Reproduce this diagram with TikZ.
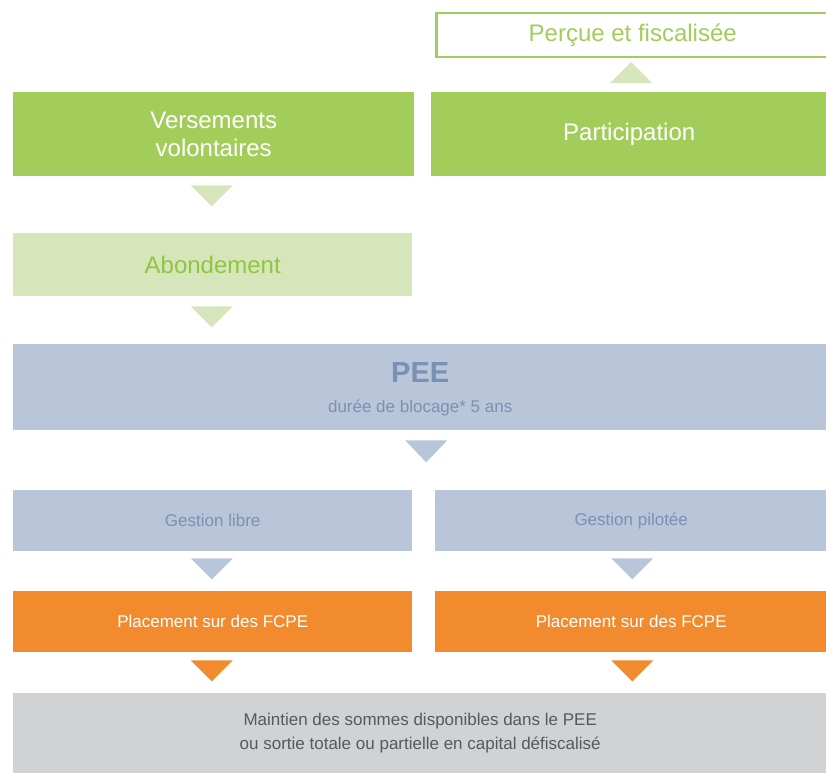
\documentclass[tikz,border=0pt]{standalone}
\usepackage{fontspec}
\setmainfont{Liberation Sans}
\usetikzlibrary{calc}
\definecolor{leaf}{HTML}{A2CD5A}
\definecolor{paleleaf}{HTML}{D7E6BA}
\definecolor{leaftext}{HTML}{8DC63F}
\definecolor{slate}{HTML}{B9C6D9}
\definecolor{slatetext}{HTML}{7A91B4}
\definecolor{fcpe}{HTML}{F28B2D}
\definecolor{fog}{HTML}{D1D2D4}
\definecolor{fogtext}{HTML}{58595B}
\tikzset{
  box/.style={rectangle, anchor=north west, inner sep=0pt, align=center},
  bigtxt/.style={font=\fontsize{24}{28}\selectfont},
  smalltxt/.style={font=\fontsize{17}{24}\selectfont},
}

\begin{document}
\begin{tikzpicture}[x=1pt, y=-1pt]
        \useasboundingbox (0,0) rectangle (826,773);
        % boxes
        \node [box, draw=leaf, line width=2.5pt, text=leaf, bigtxt, minimum width=393pt, minimum height=44pt] (percue) at (435,12) {Perçue et fiscalisée};
        \node [box, fill=leaf, text=white, bigtxt, minimum width=396pt, minimum height=84pt] (particip) at (431,92) {Participation};
        \node [box, fill=leaf, text=white, bigtxt, minimum width=401pt, minimum height=84pt] (versem) at (13,92) {Versements\\volontaires};
        \node [box, fill=paleleaf, text=leaftext, bigtxt, minimum width=399pt, minimum height=63pt] (abond) at (13,233) {Abondement};
        \node [box, fill=slate, minimum width=814pt, minimum height=86pt] (pee) at (13,344) {};
        \node [text=slatetext, font=\fontsize{29}{29}\selectfont\bfseries] (peeT) at ($(pee.north)+(0,29)$) {PEE};
        \node [text=slatetext, smalltxt] (peeS) at ($(pee.north)+(0,64)$) {durée de blocage* 5 ans};
        \node [box, fill=slate, text=slatetext, smalltxt, minimum width=399pt, minimum height=61pt] (libre) at (13,490) {Gestion libre};
        \node [box, fill=slate, text=slatetext, smalltxt, minimum width=392pt, minimum height=61pt] (pilot) at (435,490) {Gestion pilotée};
        \node [box, fill=fcpe, text=white, smalltxt, minimum width=399pt, minimum height=61pt] (placeL) at (13,591) {Placement sur des FCPE};
        \node [box, fill=fcpe, text=white, smalltxt, minimum width=392pt, minimum height=61pt] (placeR) at (435,591) {Placement sur des FCPE};
        \node [box, fill=fog, text=fogtext, smalltxt, minimum width=814pt, minimum height=80pt] (sortie) at (13,693) {Maintien des sommes disponibles dans le PEE\\ou sortie totale ou partielle en capital défiscalisé};
        % triangles
        \fill [paleleaf] ($(particip.north)+(-19,-9)$) -- ++(42,0) -- ++(-21,-21) -- cycle;
        \fill [paleleaf] ($(versem.south)+(-23,9)$) -- ++(42,0) -- ++(-21,21) -- cycle;
        \fill [paleleaf] ($(abond.south)+(-22,10)$) -- ++(42,0) -- ++(-21,21) -- cycle;
        \fill [slate] ($(pee.south)+(-15,10)$) -- ++(42,0) -- ++(-21,22) -- cycle;
        \fill [slate] ($(libre.south)+(-22,7)$) -- ++(42,0) -- ++(-21,21) -- cycle;
        \fill [slate] ($(pilot.south)+(-20,7)$) -- ++(42,0) -- ++(-21,21) -- cycle;
        \fill [fcpe] ($(placeL.south)+(-22,8)$) -- ++(42,0) -- ++(-21,21) -- cycle;
        \fill [fcpe] ($(placeR.south)+(-20,8)$) -- ++(42,0) -- ++(-21,21) -- cycle;
\end{tikzpicture}
\end{document}
